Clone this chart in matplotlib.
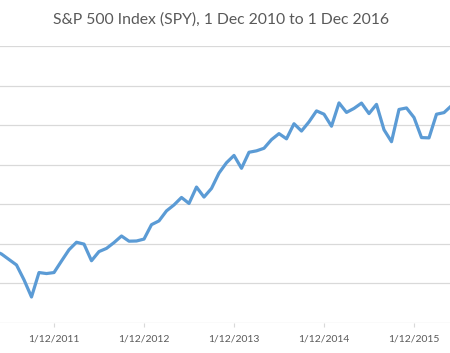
import numpy as np
import matplotlib
matplotlib.use("Agg")
import matplotlib.pyplot as plt

# monthly closes, Dec 2010 .. Dec 2016
spy_close = [125.75, 128.68, 133.15, 132.59, 136.58, 134.87, 132.09, 129.33, 121.83, 113.15,
             125.50, 124.99, 125.50, 131.32, 137.02, 140.81, 139.87, 131.47, 136.10, 137.71,
             140.64, 143.97, 141.35, 141.45, 142.41, 149.70, 151.61, 156.67, 159.68, 163.45,
             160.42, 168.71, 163.65, 168.01, 175.79, 181.00, 184.69, 178.18, 186.29, 187.01,
             188.31, 192.68, 195.72, 193.09, 200.71, 197.02, 201.66, 207.20, 205.54, 199.45,
             211.24, 206.43, 208.46, 211.14, 205.85, 210.50, 197.67, 191.63, 207.93, 208.69,
             203.87, 193.72, 193.56, 205.52, 206.33, 209.84, 209.48, 217.12, 217.38, 216.30,
             212.55, 220.38, 219.57]
# only the labels that fall inside the cropped view
tick_months = [12, 24, 36, 48, 60]
tick_labels = ['1/12/2011', '1/12/2012', '1/12/2013', '1/12/2014', '1/12/2015']
y_ticks = [100, 120, 140, 160, 180, 200, 220, 240]

plt.rcParams['font.family'] = ['Lato', 'DejaVu Sans']

W, H = 450, 353
fig = plt.figure(figsize=(W / 100, H / 100), dpi=100)
# the chart is a crop of a wider Excel chart, so the axes run past the figure edges
ax = fig.add_axes([-36 / W, 30 / H, 540 / W, 277 / H])

x = np.arange(len(spy_close))
ax.plot(x, spy_close, color='#5B9BD5', lw=2.3, solid_joinstyle='round',
        solid_capstyle='round', zorder=3)

ax.set_xlim(0, 72)
ax.set_ylim(100, 240)
ax.set_yticks(y_ticks)
ax.set_yticklabels([])
ax.set_xticks(tick_months)
ax.set_xticklabels(tick_labels, fontsize=7.5, color='#595959')
ax.tick_params(axis='x', length=3, width=0.8, color='#D9D9D9', pad=5)
ax.tick_params(axis='y', length=0)
ax.grid(axis='y', color='#D9D9D9', lw=0.9)
for s in ax.spines.values():
    s.set_visible(False)

fig.text(221 / W, 1 - 20 / H, 'S&P 500 Index (SPY), 1 Dec 2010 to 1 Dec 2016',
         ha='center', va='center', fontsize=11.3, color='#595959')

fig.savefig('out.png', dpi=100)
